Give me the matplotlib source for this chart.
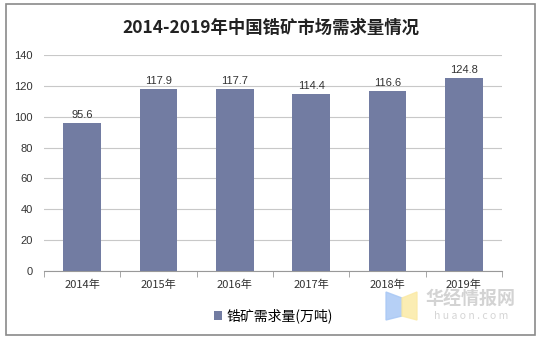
import matplotlib.pyplot as plt
from matplotlib.patches import Rectangle, Polygon

plt.rcParams['font.family'] = ['Noto Sans CJK SC', 'DejaVu Sans']

years = ['2014年', '2015年', '2016年', '2017年', '2018年', '2019年']
demand = [95.6, 117.9, 117.7, 114.4, 116.6, 124.8]

W, H = 541, 339
fig = plt.figure(figsize=(W / 100, H / 100), dpi=100)
fig.patches.append(Rectangle((0.011, 0.012), 0.978, 0.976, transform=fig.transFigure,
                             fill=False, edgecolor='#8a8a8a', linewidth=1.2))

ax = fig.add_axes([0.0813, 0.2006, 0.8467, 0.6374])
x = range(len(years))
bars = ax.bar(x, demand, width=0.49, color='#727ca2', label='锆矿需求量(万吨)', zorder=3)
for xi, v in zip(x, demand):
    ax.text(xi, v + 2, f'{v}', ha='center', va='bottom', fontsize=8, color='#333333',
            family=['Liberation Sans', 'DejaVu Sans'])

ax.set_xlim(-0.5, len(years) - 0.5)
ax.set_ylim(0, 140)
ax.set_yticks(range(0, 141, 20))
ax.yaxis.grid(True, color='#c8c8c8', linewidth=0.8, zorder=0)
ax.set_xticks(x)
ax.set_xticklabels(years, fontsize=8, color='#333333')
ax.set_xticks([i - 0.5 for i in range(len(years) + 1)], minor=True)
ax.tick_params(axis='x', which='major', length=0, pad=6)
ax.tick_params(axis='x', which='minor', length=4, color='#999999')
ax.tick_params(axis='y', length=0, labelsize=8, labelcolor='#333333', pad=8)
for lab in ax.get_yticklabels():
    lab.set_family(['Liberation Sans', 'DejaVu Sans'])
for side in ['top', 'right', 'left']:
    ax.spines[side].set_visible(False)
ax.spines['bottom'].set_color('#999999')

fig.text(0.5, 0.918, '2014-2019年中国锆矿市场需求量情况', ha='center', va='center',
         fontsize=12.5, fontweight='bold', color='#222222')

ax.legend(loc='upper center', bbox_to_anchor=(0.5, -0.115), frameon=False, fontsize=10,
          handlelength=0.6, handleheight=0.6, handletextpad=0.3)

# huaon watermark: book logo plus name
def px(pts):
    return [(a / W, 1 - b / H) for a, b in pts]

fig.patches.append(Polygon(px([(386, 292), (402, 298), (402, 316), (386, 320)]),
                           closed=True, transform=fig.transFigure, color='#a9c8f5', alpha=0.85))
fig.patches.append(Polygon(px([(402, 298), (417, 292), (417, 320), (402, 316)]),
                           closed=True, transform=fig.transFigure, color='#fbeaa6', alpha=0.85))
fig.text(471 / W, 1 - 299 / H, '华经情报网', fontsize=13, fontweight='bold', color='#cfcfcf',
         ha='center', va='center', alpha=0.9)
fig.text(471 / W, 1 - 316 / H, 'h u a o n . c o m', fontsize=7.5, color='#d5d5d5',
         ha='center', va='center')

fig.savefig('out.png', dpi=100)
